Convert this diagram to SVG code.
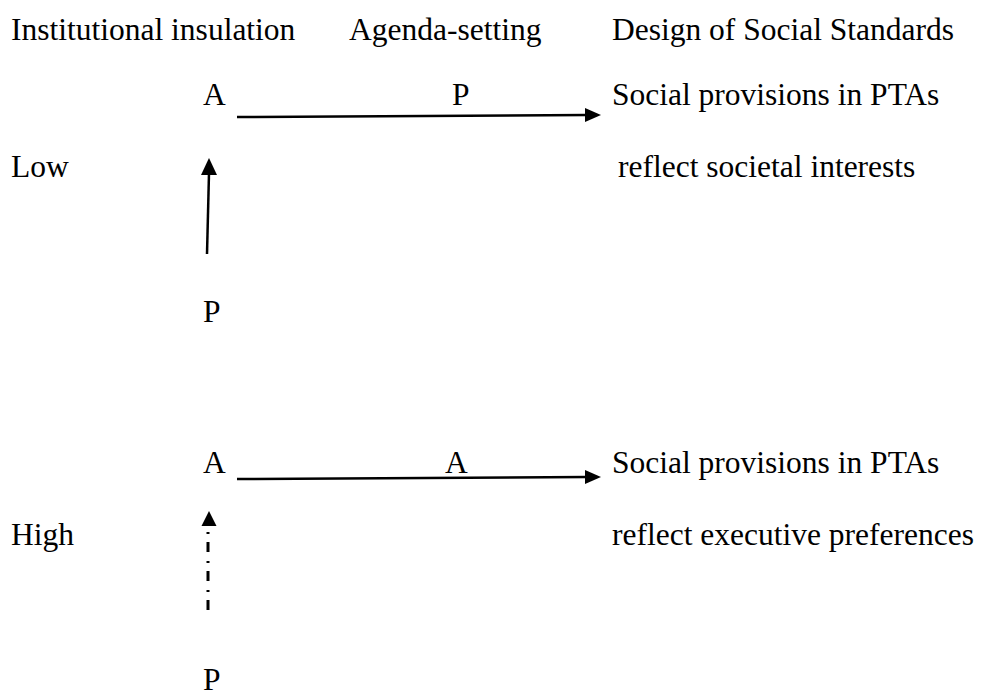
<svg xmlns="http://www.w3.org/2000/svg" width="981" height="698" viewBox="0 0 981 698">
<style>
text { font-family: "Liberation Serif", "Times New Roman", serif; font-size: 31.5px; fill: #000; }
.ln { stroke: #000; stroke-width: 2.5; fill: none; }
.dd { stroke: #000; stroke-width: 3; fill: none; stroke-dasharray: 2 8 10 9; stroke-dashoffset: 23; }
.hd { fill: #000; }
</style>
<rect width="981" height="698" fill="#fff"/>
<g id="headers">
<text x="11" y="40">Institutional insulation</text>
<text x="349" y="40">Agenda-setting</text>
<text x="612" y="40">Design of Social Standards</text>
</g>
<g id="row-low">
<text x="11" y="177">Low</text>
</g>
<g id="row-high">
<text x="11" y="545">High</text>
</g>
<g id="node-A-low">
<text x="203" y="105">A</text>
</g>
<g id="node-P-low">
<text x="203" y="322">P</text>
</g>
<g id="node-outcome-low">
<text x="612" y="105">Social provisions in PTAs</text>
<text x="618" y="177">reflect societal interests</text>
</g>
<g id="node-A-high">
<text x="203" y="473">A</text>
</g>
<g id="node-P-high">
<text x="203" y="690">P</text>
</g>
<g id="node-outcome-high">
<text x="612" y="473">Social provisions in PTAs</text>
<text x="612" y="545">reflect executive preferences</text>
</g>
<g id="connectors">
<line class="ln" x1="237" y1="117" x2="587" y2="115"/>
<polygon class="hd" points="601,115 585,108 585,122"/>
<text x="452" y="105">P</text>
<line class="ln" x1="207" y1="254" x2="209" y2="173"/>
<polygon class="hd" points="209,158 201,175 217,175"/>
<line class="ln" x1="237" y1="479" x2="587" y2="477"/>
<polygon class="hd" points="601,477 585,470 585,484"/>
<text x="445" y="473">A</text>
<path class="dd" d="M208,526 L208,613"/>
<polygon class="hd" points="209,511 201.5,526 216.5,526"/>
</g>
</svg>
